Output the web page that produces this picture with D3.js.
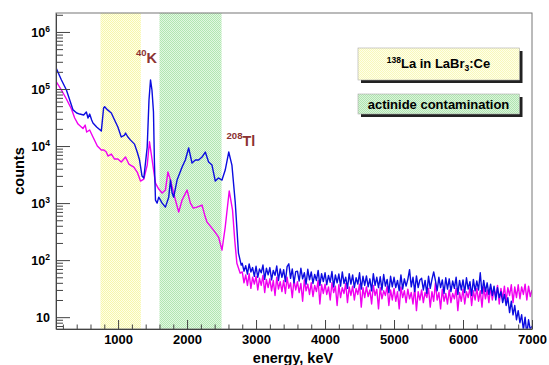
<!DOCTYPE html>
<html>
<head>
<meta charset="utf-8">
<script src="https://cdn.jsdelivr.net/npm/d3@7"></script>
<style>
  body { margin: 0; background: #fff; }
  svg { display: block; font-family: "Liberation Sans", Arial, sans-serif; font-weight: bold; }
</style>
</head>
<body>
<div id="chart"></div>
<script>
// low energy part, blue spectrum (keV, counts)
const blueLowE = [105,179,251,299,347,400,444,501,540,564,588,617,636,689,757,790,805,848,902,949,
  997,1046,1094,1108,1142,1181,1238,1277,1311,1347,1373,1422,1448,1470,1491,1513,1527,1542,1566,1589,
  1639,1686,1734,1759,1783,1806,1855,1928,1975,2023,2072,2120,2168,2217,2264,2312,2361,2409,2456,2506,
  2553,2604,2650,2698,2745,2785];
const blueLowC = [229000,144000,96000,64000,43000,38000,36400,35000,39500,31000,36400,28600,25300,21500,18300,46400,49000,43000,38000,28600,
  21500,14400,15600,16900,14400,12700,10800,7850,5680,2980,2750,9600,64000,144000,96000,39500,5030,1130,1000,1270,
  1000,850,1270,2530,1500,1270,2530,4280,5680,9230,5030,5680,5680,6410,7850,5240,4640,2430,2750,2530,
  3790,7850,4640,1040,133,82];

// low energy part, magenta spectrum
const magLowE = [105,179,251,324,371,419,491,523,545,588,636,699,757,795,829,853,902,949,997,1046,
  1108,1156,1228,1277,1325,1373,1422,1455,1494,1542,1589,1639,1686,1722,1759,1795,1831,1879,1928,2000,
  2048,2091,2144,2217,2264,2289,2337,2384,2457,2506,2553,2611,2659,2691,2722,2770];
const magLowC = [134000,96000,66800,44600,31000,24300,20300,23300,17600,19100,14400,10000,8510,8510,7850,6680,7240,5920,5920,5240,
  6410,4830,4280,3500,2430,2640,4640,11900,5680,2240,1760,1500,1690,3500,2530,1690,1130,695,1130,1690,
  1000,817,850,923,568,464,395,336,253,150,379,1630,754,224,88,59];

// high energy tail, channel energies shared by both spectra
const tailE = [
  2800,2825,2850,2875,2900,2925,2950,2975, 3000,3025,3050,3075,3100,3125,3150,3175,
  3200,3225,3250,3275,3300,3325,3350,3375, 3400,3425,3450,3475,3500,3525,3550,3575,
  3600,3625,3650,3675,3700,3725,3750,3775, 3800,3825,3850,3875,3900,3925,3950,3975,
  4000,4025,4050,4075,4100,4125,4150,4175, 4200,4225,4250,4275,4300,4325,4350,4375,
  4400,4425,4450,4475,4500,4525,4550,4575, 4600,4625,4650,4675,4700,4725,4750,4775,
  4800,4825,4850,4875,4900,4925,4950,4975, 5000,5025,5050,5075,5100,5125,5150,5175,
  5200,5225,5250,5275,5300,5325,5350,5375, 5400,5425,5450,5475,5500,5525,5550,5575,
  5600,5625,5650,5675,5700,5725,5750,5775, 5800,5825,5850,5875,5900,5925,5950,5975,
  6000,6025,6050,6075,6100,6125,6150,6175, 6200,6225,6250,6275,6300,6325,6350,6375,
  6400,6425,6450,6475,6500,6525,6550,6575, 6600,6625,6650,6675,6700,6725,6750,6775,
  6800,6825,6850,6875,6900,6925,6950,6975, 7000];
const blueTailC = [
  88,64,80,57,86,62,74,52, 78,50,70,60,82,46,72,55,
  74,45,66,54,79,44,70,50, 68,42,77,86,48,70,40,63,
  64,43,72,47,60,38,69,45, 62,39,56,44,66,36,58,42,
  60,37,54,41,63,34,55,40, 57,35,62,39,50,32,58,38,
  55,33,49,38,60,31,52,36, 53,34,47,29,58,36,50,33,
  51,30,56,35,46,27,52,34, 50,33,44,29,55,31,47,35,
  46,68,34,50,28,53,33,45, 48,30,44,26,52,32,46,62,
  44,29,50,33,45,26,49,31, 47,28,43,32,50,25,44,30,
  45,27,49,31,42,24,46,29, 43,30,60,26,44,28,40,25,
  38,24,35,20,33,22,28,18, 25,16,22,12,19,11,16,9,
  13,8,11,6,10,5,9,6, 7];
const magTailC = [
  62,40,55,36,58,32,50,38, 52,30,48,36,54,27,46,33,
  47,29,44,24,50,31,42,28, 44,26,50,32,40,22,45,30,
  42,27,39,19,45,29,38,25, 40,23,36,28,44,17,37,26,
  38,25,34,20,40,27,35,16, 37,22,33,26,39,18,34,24,
  35,20,32,25,38,15,33,22, 34,23,30,17,36,24,31,14,
  33,21,29,24,35,16,30,20, 32,19,28,14,34,22,29,18,
  31,21,27,17,33,13,28,20, 30,18,27,22,32,15,28,19,
  40,20,27,14,31,19,26,17, 30,18,26,21,32,13,27,19,
  31,17,28,22,33,16,29,20, 32,19,29,15,34,21,30,18,
  34,20,31,23,36,17,32,21, 35,19,33,24,37,18,34,22,
  37,21,34,25,38,20,35,23, 30];

// shaded regions (keV)
const yellowBand = [745, 1330];
const greenBand = [1600, 2500];
const xTicks = [1000, 2000, 3000, 4000, 5000, 6000, 7000];
const yTickExp = [1, 2, 3, 4, 5, 6];

function drawChart() {
    const W = 549, H = 365;
    const left = 56, right = 532, top = 13, bottom = 329;

    const svg = d3.select("#chart").append("svg")
        .attr("width", W).attr("height", H);

    const x = d3.scaleLinear().domain([100, 7000]).range([left, right]);
    const y = d3.scaleLog().domain([6.2, 2.15e6]).range([bottom, top]);

    const defs = svg.append("defs");
    // dithered fills, like the ROOT fill styles
    function dither(id, c1, c2) {
        const p = defs.append("pattern").attr("id", id)
            .attr("width", 2).attr("height", 2).attr("patternUnits", "userSpaceOnUse");
        p.append("rect").attr("width", 2).attr("height", 2).attr("fill", c1);
        p.append("rect").attr("width", 1).attr("height", 1).attr("fill", c2);
        p.append("rect").attr("x", 1).attr("y", 1).attr("width", 1).attr("height", 1).attr("fill", c2);
    }
    dither("yel", "#ffffe6", "#f6f6ac");
    dither("grn", "#e2f8e2", "#b2e6b2");
    dither("yelBox", "#ffffe8", "#f8f8bc");
    dither("grnBox", "#daf4da", "#b0e4b0");

    defs.append("clipPath").attr("id", "plot")
        .append("rect").attr("x", left).attr("y", top)
        .attr("width", right - left).attr("height", bottom - top);

    // bands
    [[yellowBand, "url(#yel)"], [greenBand, "url(#grn)"]].forEach(([b, f]) => {
        svg.append("rect")
            .attr("x", x(b[0])).attr("y", top)
            .attr("width", x(b[1]) - x(b[0])).attr("height", bottom - top)
            .attr("fill", f);
    });

    // spectra
    const line = d3.line()
        .x(d => x(d[0]))
        .y(d => y(Math.max(d[1], 1)));

    const magenta = magLowE.map((e, i) => [e, magLowC[i]])
        .concat(tailE.map((e, i) => [e, magTailC[i]]));
    const blue = blueLowE.map((e, i) => [e, blueLowC[i]])
        .concat(tailE.map((e, i) => [e, blueTailC[i]]));

    const g = svg.append("g").attr("clip-path", "url(#plot)");
    g.append("path").datum(magenta).attr("d", line)
        .attr("fill", "none").attr("stroke", "#f000f0").attr("stroke-width", 1.4)
        .attr("stroke-linejoin", "round");
    g.append("path").datum(blue).attr("d", line)
        .attr("fill", "none").attr("stroke", "#0c0ce0").attr("stroke-width", 1.4)
        .attr("stroke-linejoin", "round");

    // frame
    svg.append("rect").attr("x", left).attr("y", top)
        .attr("width", right - left).attr("height", bottom - top)
        .attr("fill", "none").attr("stroke", "#777").attr("stroke-width", 1);

    // x axis
    const xMinor = d3.range(200, 7000, 200).filter(v => v % 1000 !== 0);
    svg.append("g").attr("transform", `translate(0,${bottom})`)
        .call(d3.axisBottom(x).tickValues(xMinor).tickSize(-4.5).tickSizeOuter(0).tickFormat(""))
        .call(s => s.select(".domain").remove());
    const xa = svg.append("g").attr("transform", `translate(0,${bottom})`)
        .call(d3.axisBottom(x).tickValues(xTicks).tickSize(-9).tickSizeOuter(0).tickPadding(6).tickFormat(d3.format("d")));
    xa.selectAll("text").attr("font-size", 13).attr("font-weight", "bold")
        .attr("font-family", "Liberation Sans, Arial, sans-serif").attr("fill", "#000");
    svg.selectAll(".tick line").attr("stroke", "#444");
    xa.select(".domain").attr("stroke", "#444");

    // y axis
    const yMajor = yTickExp.map(e => Math.pow(10, e));
    const yMinor = [];
    [0, 1, 2, 3, 4, 5, 6].forEach(e => d3.range(2, 10).forEach(k => {
        const v = k * Math.pow(10, e);
        if (v >= 6.2 && v <= 2.15e6) yMinor.push(v);
    }));
    svg.append("g").attr("transform", `translate(${left},0)`)
        .call(d3.axisLeft(y).tickValues(yMinor).tickSize(-7).tickSizeOuter(0).tickFormat(""))
        .call(s => s.selectAll("line").attr("stroke", "#444"))
        .call(s => s.select(".domain").remove());
    svg.append("g").attr("transform", `translate(${left},0)`)
        .call(d3.axisLeft(y).tickValues(yMajor).tickSize(-14).tickSizeOuter(0).tickFormat(""))
        .call(s => s.selectAll("line").attr("stroke", "#444"))
        .call(s => s.select(".domain").attr("stroke", "#444"));

    yTickExp.forEach(e => {
        const t = svg.append("text")
            .attr("x", 50).attr("y", y(Math.pow(10, e)) + 5)
            .attr("text-anchor", "end").attr("font-size", 12.5).attr("fill", "#000");
        t.append("tspan").text("10");
        if (e > 1) t.append("tspan").attr("dy", -5).attr("font-size", 8.5).text(e);
    });

    // axis titles
    svg.append("text")
        .attr("transform", "translate(24,171) rotate(-90)")
        .attr("text-anchor", "middle").attr("font-size", 14.5).text("counts");
    svg.append("text")
        .attr("x", 293).attr("y", 363)
        .attr("text-anchor", "middle").attr("font-size", 14.5).text("energy, keV");

    // peak labels
    const red = "#8c3232";
    const k = svg.append("text").attr("x", 136).attr("y", 63).attr("fill", red);
    k.append("tspan").attr("font-size", 9.5).attr("dy", -7.5).text("40");
    k.append("tspan").attr("font-size", 14.5).attr("dy", 7.5).text("K");
    const tl = svg.append("text").attr("x", 226.5).attr("y", 146).attr("fill", red);
    tl.append("tspan").attr("font-size", 9.6).attr("dy", -7.5).text("208");
    tl.append("tspan").attr("font-size", 14.3).attr("dy", 7.5).text("Tl");

    // legend boxes
    function box(yy, h, fill) {
        svg.append("rect").attr("x", 361).attr("y", yy + 3).attr("width", 161.5).attr("height", h).attr("fill", "#222");
        svg.append("rect").attr("x", 358).attr("y", yy).attr("width", 161.5).attr("height", h)
            .attr("fill", fill).attr("stroke", "#aaa").attr("stroke-width", 0.6);
    }
    box(48, 32, "url(#yelBox)");
    box(94, 20, "url(#grnBox)");

    const la = svg.append("text").attr("x", 438.5).attr("y", 67.5)
        .attr("text-anchor", "middle").attr("font-size", 13);
    la.append("tspan").attr("font-size", 8.5).attr("dy", -5).text("138");
    la.append("tspan").attr("dy", 5).text("La in LaBr");
    la.append("tspan").attr("font-size", 8.5).attr("dy", 3).text("3");
    la.append("tspan").attr("dy", -3).text(":Ce");

    svg.append("text").attr("x", 438.5).attr("y", 108.5)
        .attr("text-anchor", "middle").attr("font-size", 13).text("actinide contamination");
}

window.onload = drawChart;
</script>
</body>
</html>
